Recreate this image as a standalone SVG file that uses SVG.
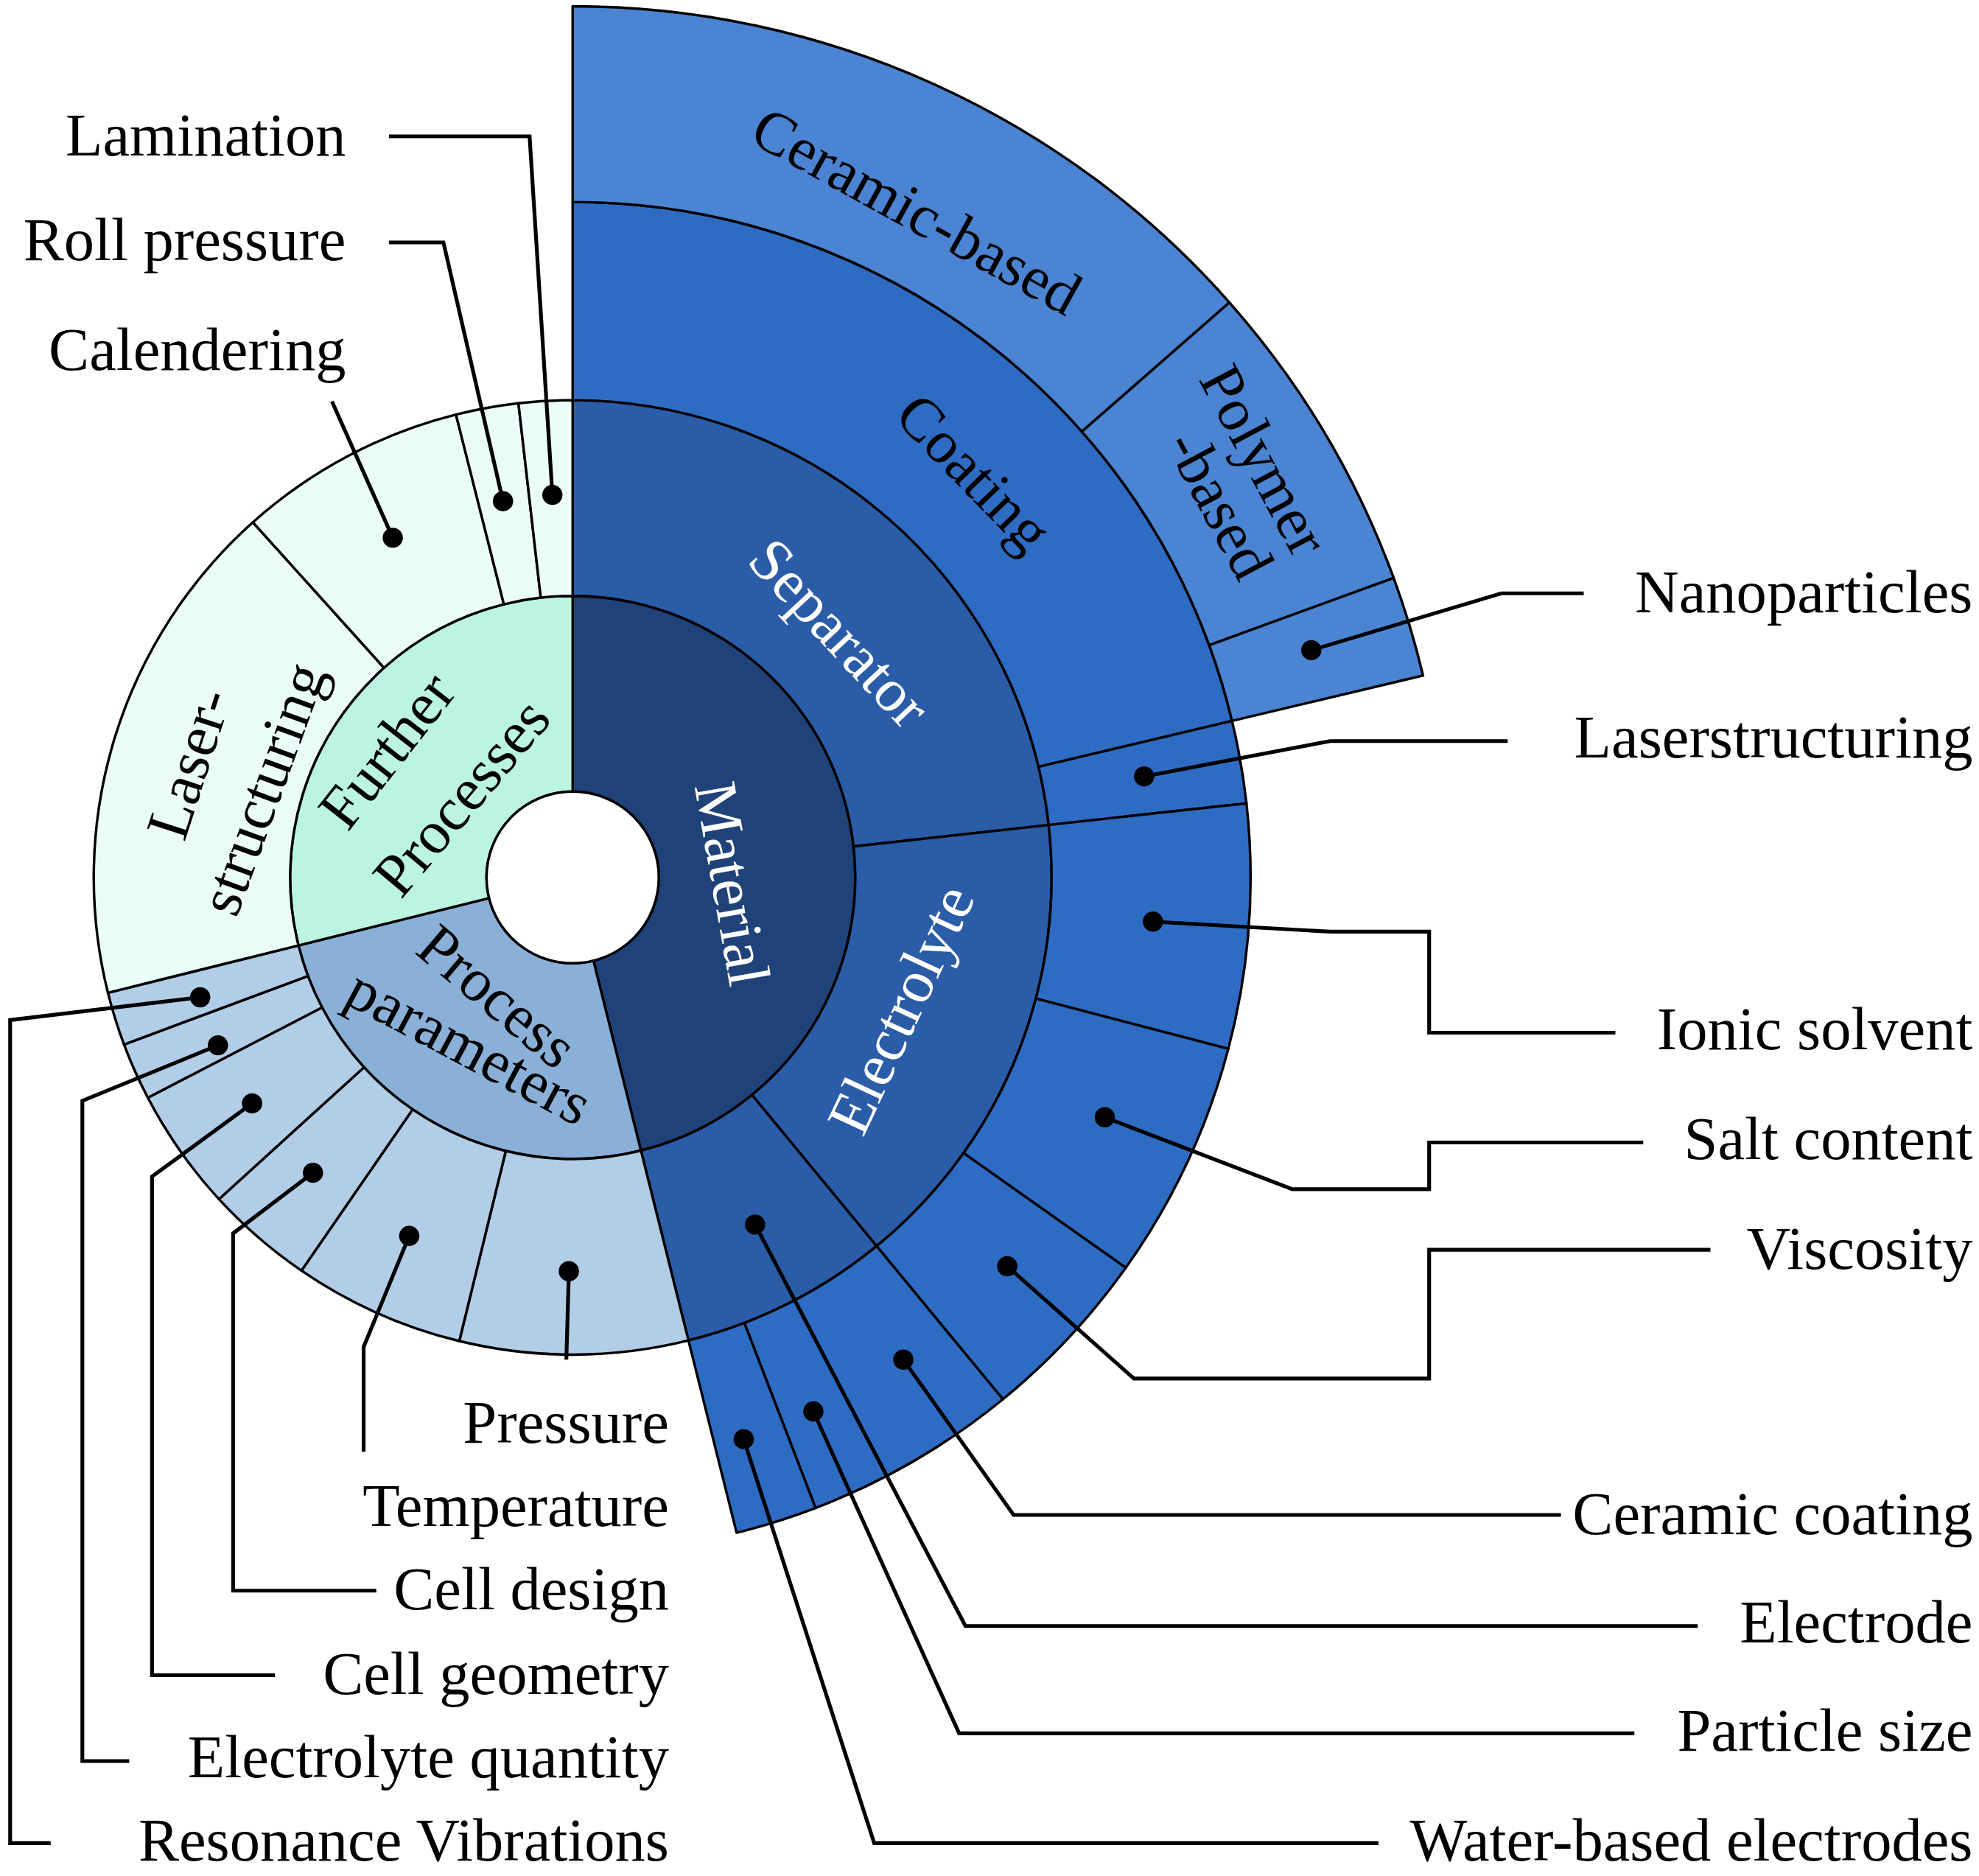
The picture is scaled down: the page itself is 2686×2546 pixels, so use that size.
<svg xmlns="http://www.w3.org/2000/svg" width="2686" height="2546" viewBox="0 0 2686 2546">
<style>
.s{stroke:#000;stroke-width:2;stroke-linejoin:round}
.m{fill:#1f4278}.r2{fill:#2a5ca8}.r3{fill:#2e6cc4}.r4{fill:#4a84d2}
.pp{fill:#8ab0d8}.pc{fill:#b2cde6}.fp{fill:#bbf5e0}.fc{fill:#ebfdf7}
text{font-family:"Liberation Serif","Times New Roman",serif;font-size:48px;fill:#000}
.w{fill:#fff}
.c{fill:none;stroke:#000;stroke-width:3;stroke-linejoin:miter}
.lb{text-anchor:end}
.in{text-anchor:middle}
</style>
<rect width="2686" height="2546" fill="#fff"/>
<g transform="scale(1.7196,1.7133)">
<g id="ring1">
<path id="material" class="s m" d="M452,472 A223 223 0 0 1 505.9,911.4 L468.4,761 A68 68 0 0 0 452,627 Z"/>
<path id="process-parameters" class="s pp" d="M505.9,911.4 A223 223 0 0 1 235.6,748.9 L386,711.4 A68 68 0 0 0 468.4,761 Z"/>
<path id="further-processes" class="s fp" d="M235.6,748.9 A223 223 0 0 1 452,472 L452,627 A68 68 0 0 0 386,711.4 Z"/>
</g>
<g id="ring2">
<path id="separator" class="s r2" d="M452,317 A378 378 0 0 1 827.7,653.5 L673.7,670.5 A223 223 0 0 0 452,472 Z"/>
<path id="electrolyte" class="s r2" d="M827.7,653.5 A378 378 0 0 1 691.9,987.1 L593.5,867.3 A223 223 0 0 0 673.7,670.5 Z"/>
<path id="electrode" class="s r2" d="M691.9,987.1 A378 378 0 0 1 543.4,1061.8 L505.9,911.4 A223 223 0 0 0 593.5,867.3 Z"/>
<path id="pressure" class="s pc" d="M543.4,1061.8 A378 378 0 0 1 362.5,1062.3 L399.2,911.7 A223 223 0 0 0 505.9,911.4 Z"/>
<path id="temperature" class="s pc" d="M362.5,1062.3 A378 378 0 0 1 237.9,1006.5 L325.7,878.8 A223 223 0 0 0 399.2,911.7 Z"/>
<path id="cell-design" class="s pc" d="M237.9,1006.5 A378 378 0 0 1 172.8,949.9 L287.3,845.4 A223 223 0 0 0 325.7,878.8 Z"/>
<path id="cell-geometry" class="s pc" d="M172.8,949.9 A378 378 0 0 1 116.7,869.5 L254.2,798 A223 223 0 0 0 287.3,845.4 Z"/>
<path id="electrolyte-quantity" class="s pc" d="M116.7,869.5 A378 378 0 0 1 97.9,827.4 L243.1,773.1 A223 223 0 0 0 254.2,798 Z"/>
<path id="resonance" class="s pc" d="M97.9,827.4 A378 378 0 0 1 85.2,786.4 L235.6,748.9 A223 223 0 0 0 243.1,773.1 Z"/>
<path id="laser-structuring" class="s fc" d="M85.2,786.4 A378 378 0 0 1 199.6,413.7 L303.1,529 A223 223 0 0 0 235.6,748.9 Z"/>
<path id="calendering" class="s fc" d="M199.6,413.7 A378 378 0 0 1 359.9,328.4 L397.7,478.7 A223 223 0 0 0 303.1,529 Z"/>
<path id="roll-pressure" class="s fc" d="M359.9,328.4 A378 378 0 0 1 409.2,319.4 L426.8,473.4 A223 223 0 0 0 397.7,478.7 Z"/>
<path id="lamination" class="s fc" d="M409.2,319.4 A378 378 0 0 1 452,317 L452,472 A223 223 0 0 0 426.8,473.4 Z"/>
</g>
<g id="ring3">
<path id="coating" class="s r3" d="M452,160 A535 535 0 0 1 972.4,571 L819.7,607.4 A378 378 0 0 0 452,317 Z"/>
<path id="laserstructuring" class="s r3" d="M972.4,571 A535 535 0 0 1 983.8,636.3 L827.7,653.5 A378 378 0 0 0 819.7,607.4 Z"/>
<path id="ionic-solvent" class="s r3" d="M983.8,636.3 A535 535 0 0 1 969.5,830.8 L817.6,790.9 A378 378 0 0 0 827.7,653.5 Z"/>
<path id="salt-content" class="s r3" d="M969.5,830.8 A535 535 0 0 1 888.6,1004.2 L760.5,913.4 A378 378 0 0 0 817.6,790.9 Z"/>
<path id="viscosity" class="s r3" d="M888.6,1004.2 A535 535 0 0 1 791.6,1108.4 L691.9,987.1 A378 378 0 0 0 760.5,913.4 Z"/>
<path id="particle-size" class="s r3" d="M791.6,1108.4 A535 535 0 0 1 643.7,1194.5 L587.5,1047.9 A378 378 0 0 0 691.9,987.1 Z"/>
<path id="water-based" class="s r3" d="M643.7,1194.5 A535 535 0 0 1 581.4,1214.1 L543.4,1061.8 A378 378 0 0 0 587.5,1047.9 Z"/>
</g>
<g id="ring4">
<path id="ceramic-based" class="s r4" d="M452,5 A690 690 0 0 1 970.4,239.6 L853.9,341.9 A535 535 0 0 0 452,160 Z"/>
<path id="polymer-based" class="s r4" d="M970.4,239.6 A690 690 0 0 1 1100,457.8 L954.4,511.1 A535 535 0 0 0 853.9,341.9 Z"/>
<path id="nanoparticles" class="s r4" d="M1100,457.8 A690 690 0 0 1 1123.2,535.1 L972.4,571 A535 535 0 0 0 954.4,511.1 Z"/>
</g>
<circle id="hole" cx="452" cy="695" r="68" fill="#fff" class="s"/>
<g id="inner-labels" class="in">
<text class="w in" transform="translate(577,700) rotate(80)" dy="15">Material</text>
<text class="w in" transform="translate(662,502) rotate(47)" dy="15">Separator</text>
<text class="w in" transform="translate(712,800) rotate(-65)" dy="15">Electrolyte</text>
<text class="in" transform="translate(768,375) rotate(46)" dy="15">Coating</text>
<text class="in" transform="translate(723,168) rotate(29)" dy="15">Ceramic-based</text>
<text class="in" transform="translate(997,365) rotate(62)" dy="15">Polymer</text>
<text class="in" transform="translate(962,400) rotate(62)" dy="15">-based</text>
<text class="in" transform="translate(306,595) rotate(-52)" dy="15">Further</text>
<text class="in" transform="translate(365,632) rotate(-50)" dy="15">Processes</text>
<text class="in" transform="translate(150,605) rotate(-72)" dy="15">Laser-</text>
<text class="in" transform="translate(208,625) rotate(-70)" dy="15">structuring</text>
<text class="in" transform="translate(392,790) rotate(40)" dy="15">Process</text>
<text class="in" transform="translate(370,830) rotate(28)" dy="15">parameters</text>
</g>
<g id="connectors">
<polyline class="c" points="307,108 418,108 436,392"/>
<polyline class="c" points="307,192 350,192 397,397"/>
<polyline class="c" points="262,318 310,426"/>
<polyline class="c" points="1250,470 1185,470 1035,515"/>
<polyline class="c" points="1190,587 1050,587 903,615"/>
<polyline class="c" points="1275,818 1128,818 1128,738 1050,738 910,730"/>
<polyline class="c" points="1297,905 1128,905 1128,942 1020,942 872,885"/>
<polyline class="c" points="1350,990 1128,990 1128,1092 895,1092 795,1003"/>
<polyline class="c" points="1232,1200 800,1200 713,1077"/>
<polyline class="c" points="1340,1288 762,1288 596,970"/>
<polyline class="c" points="1290,1373 757,1373 642,1118"/>
<polyline class="c" points="1088,1460 690,1460 587,1140"/>
<polyline class="c" points="447,1077 449,1007"/>
<polyline class="c" points="287,1150 287,1067 323,979"/>
<polyline class="c" points="297,1260 184,1260 184,977 247,929"/>
<polyline class="c" points="217,1327 120,1327 120,932 199,874"/>
<polyline class="c" points="102,1395 65,1395 65,872 172,828"/>
<polyline class="c" points="40,1460 8,1460 8,808 158,790"/>
<g fill="#000">
<circle cx="436" cy="392" r="8"/><circle cx="397" cy="397" r="8"/><circle cx="310" cy="426" r="8"/>
<circle cx="1035" cy="515" r="8"/><circle cx="903" cy="615" r="8"/><circle cx="910" cy="730" r="8"/>
<circle cx="872" cy="885" r="8"/><circle cx="795" cy="1003" r="8"/><circle cx="713" cy="1077" r="8"/>
<circle cx="596" cy="970" r="8"/><circle cx="642" cy="1118" r="8"/><circle cx="587" cy="1140" r="8"/>
<circle cx="449" cy="1007" r="8"/><circle cx="323" cy="979" r="8"/><circle cx="247" cy="929" r="8"/>
<circle cx="199" cy="874" r="8"/><circle cx="172" cy="828" r="8"/><circle cx="158" cy="790" r="8"/>
</g>
</g>
<g id="outer-labels" class="lb">
<text class="lb" x="273" y="123">Lamination</text>
<text class="lb" x="273" y="206">Roll pressure</text>
<text class="lb" x="273" y="293">Calendering</text>
<text class="lb" x="1557" y="485">Nanoparticles</text>
<text class="lb" x="1557" y="600">Laserstructuring</text>
<text class="lb" x="1557" y="831">Ionic solvent</text>
<text class="lb" x="1557" y="918">Salt content</text>
<text class="lb" x="1557" y="1005">Viscosity</text>
<text class="lb" x="1557" y="1215">Ceramic coating</text>
<text class="lb" x="1557" y="1301">Electrode</text>
<text class="lb" x="1557" y="1387">Particle size</text>
<text class="lb" x="1557" y="1474">Water-based electrodes</text>
<text class="lb" x="528" y="1143">Pressure</text>
<text class="lb" x="528" y="1209">Temperature</text>
<text class="lb" x="528" y="1275">Cell design</text>
<text class="lb" x="528" y="1342">Cell geometry</text>
<text class="lb" x="528" y="1408">Electrolyte quantity</text>
<text class="lb" x="528" y="1474">Resonance Vibrations</text>
</g>
</g>
</svg>
